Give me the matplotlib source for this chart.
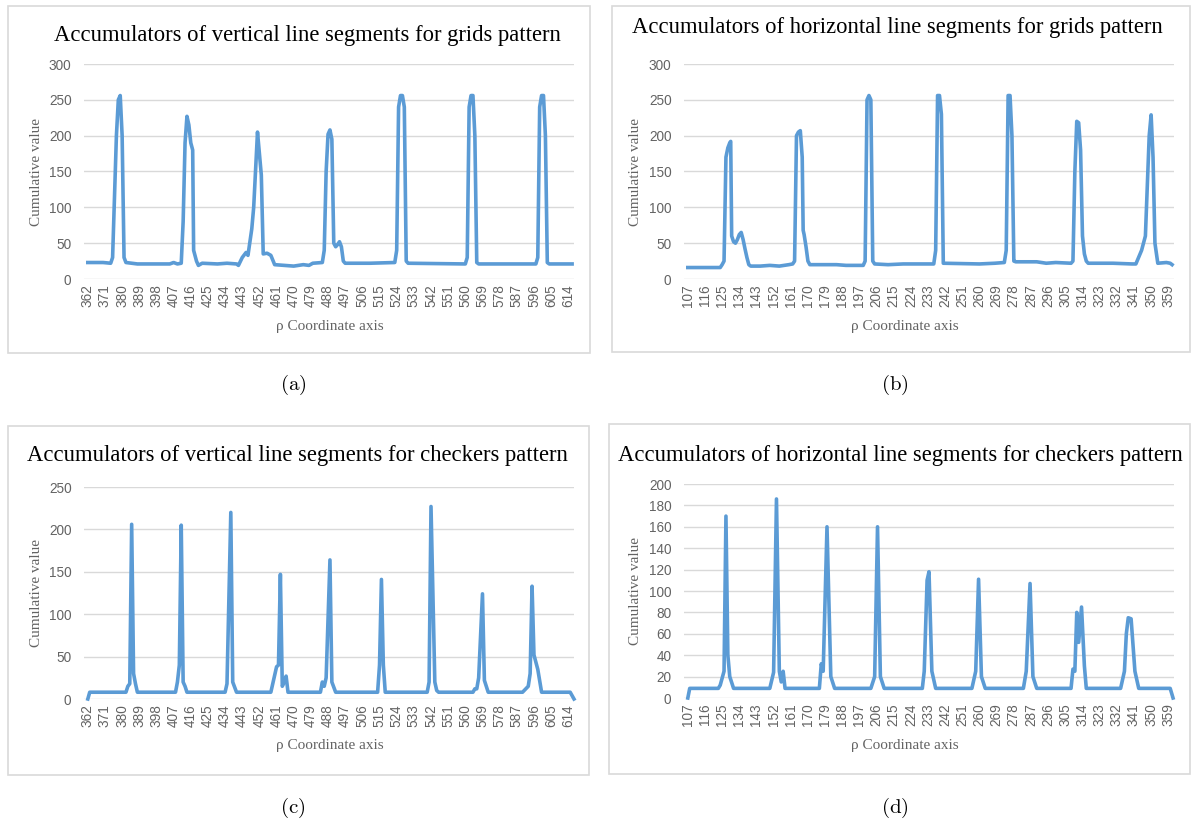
import matplotlib
matplotlib.use("Agg")
import matplotlib.pyplot as plt
from matplotlib.patches import Rectangle

plt.rcParams['mathtext.fontset'] = 'cm'

# ---- data (rho, accumulator value) ----
rho_a = [362, 370, 374, 375, 377, 378, 379, 380, 381, 382, 385, 388, 405, 407, 409, 411, 412,
         413, 414, 415, 416, 417, 417.5, 419, 420, 422, 430, 435, 440, 441, 443, 445, 446, 448,
         449, 451, 452, 453, 454, 456, 458, 460, 465, 470, 475, 478, 480, 485, 486, 487, 488,
         489, 490, 491, 492, 493, 494, 495, 496, 497, 510, 523, 524, 525, 526, 527, 528, 529,
         530, 560, 561, 562, 563, 564, 565, 566, 567, 597, 598, 599, 600, 601, 602, 603, 604, 616]
acc_a = [23, 23, 22, 30, 200, 250, 256, 200, 30, 23, 22, 21, 21, 23, 21, 22, 80,
         190, 227, 215, 190, 180, 40, 25, 19, 22, 21, 22, 21, 19, 30, 37, 33, 70,
         100, 205, 175, 145, 35, 36, 33, 20, 19, 18, 20, 19, 22, 23, 40, 150, 202,
         208, 195, 50, 45, 48, 52, 45, 25, 22, 22, 23, 40, 240, 256, 256, 240, 25,
         22, 21, 30, 240, 256, 256, 200, 23, 21, 21, 30, 240, 256, 256, 200, 23, 21, 21]

rho_b = [107, 124, 125, 126, 127, 128, 129, 129.5, 130, 131, 132, 133, 134, 135, 136, 137, 138,
         139, 140, 145, 150, 155, 160, 162, 163, 164, 165, 166, 167, 167.5, 168, 169, 170, 171,
         185, 190, 199, 200, 201, 202, 203, 204, 205, 212, 220, 236, 237, 238, 239, 240, 241,
         260, 268, 273, 274, 275, 276, 277, 278, 279, 290, 295, 300, 308, 309, 310, 311, 312,
         313, 314, 315, 316, 317, 330, 340, 342, 345, 347, 349, 350, 351, 352, 353.5, 358, 360, 361]
acc_b = [16, 16, 20, 25, 170, 183, 190, 192, 60, 52, 50, 55, 62, 65, 55, 42, 30,
         20, 18, 18, 19, 18, 20, 21, 25, 200, 205, 207, 170, 68, 62, 45, 25, 20,
         20, 19, 19, 25, 250, 256, 250, 25, 21, 20, 21, 21, 40, 256, 256, 230, 22,
         21, 22, 23, 40, 256, 256, 200, 25, 24, 24, 22, 23, 22, 25, 150, 220, 218,
         180, 60, 35, 25, 22, 22, 21, 21, 40, 60, 200, 229, 170, 50, 22, 23, 22, 20]

rho_c = [362, 363, 382, 383, 384, 385, 386, 387, 388, 408, 409, 410, 411, 412, 413, 414, 434,
         435, 437, 438, 440, 458, 460, 461, 462, 463, 464, 465, 466, 467, 484, 485, 486, 487,
         489, 490, 492, 514, 515, 516, 517, 518, 540, 541, 542, 544, 545, 546, 564, 565, 566,
         567, 569, 570, 572, 590, 593, 594, 595, 596, 598, 600, 615, 617]
acc_c = [0, 8, 8, 15, 18, 206, 30, 18, 8, 8, 20, 40, 205, 20, 15, 8, 8,
         18, 220, 20, 8, 8, 28, 38, 40, 147, 15, 20, 27, 8, 8, 20, 15, 25,
         164, 20, 8, 8, 40, 141, 40, 8, 8, 20, 227, 20, 10, 8, 8, 12, 12,
         25, 124, 22, 8, 8, 15, 30, 133, 52, 35, 8, 8, 0]

rho_d = [107, 108, 123, 124, 126, 127, 128, 129, 131, 150, 152, 153.5, 155, 156, 157, 158, 176,
         177, 178, 180, 182, 184, 203, 205, 206.5, 208, 210, 230, 231, 232.5, 233.5, 235, 237,
         256, 258, 259.5, 261, 263, 283, 284.5, 286.5, 288, 290, 308, 309, 310, 311, 312,
         313.5, 315, 316, 334, 336, 337, 338, 339.5, 341.5, 343.5, 360, 361.5]
acc_d = [0, 9, 9, 12, 25, 170, 40, 20, 9, 9, 24, 186, 25, 15, 25, 9, 9,
         32, 25, 160, 20, 9, 9, 20, 160, 20, 9, 9, 25, 110, 118, 25, 9,
         9, 25, 111, 20, 9, 9, 25, 107, 20, 9, 9, 27, 25, 80, 52,
         85, 30, 9, 9, 25, 60, 75, 74, 25, 9, 9, 0]

titles = ["Accumulators of vertical line segments for grids pattern",
          "Accumulators of horizontal line segments for grids pattern",
          "Accumulators of vertical line segments for checkers pattern",
          "Accumulators of horizontal line segments for checkers pattern"]
captions = ["(a)", "(b)", "(c)", "(d)"]
xticks_v = list(range(362, 615, 9))
xticks_h = list(range(107, 360, 9))

W, H = 1192, 830
LINE = '#5B9BD5'
GRID = '#D9D9D9'
TICK = '#636363'

fig = plt.figure(figsize=(W / 100, H / 100), dpi=100)
fig.patch.set_facecolor('white')


def fx(x):
    return x / W


def fy(y):
    return 1 - y / H


def panel(box, axpx, xlim, ymax, ystep, xticks, rho, acc, title, title_xy, ylab_x, xlab_xy, cap_xy, cap):
    x0, y0, x1, y1 = box
    fig.patches.append(Rectangle((fx(x0), fy(y1)), fx(x1 - x0), (y1 - y0) / H,
                                 transform=fig.transFigure, fill=False,
                                 edgecolor=GRID, linewidth=1.2))
    l, t, r, b = axpx
    ax = fig.add_axes([fx(l), fy(b), fx(r - l), (b - t) / H])
    ax.plot(rho, acc, color=LINE, linewidth=2.6, solid_joinstyle='round', clip_on=False)
    ax.set_xlim(*xlim)
    ax.set_ylim(0, ymax)
    ax.set_yticks(range(0, ymax + 1, ystep))
    ax.set_xticks(xticks)
    ax.set_xticklabels([str(v) for v in xticks], rotation=90)
    for s in ax.spines.values():
        s.set_visible(False)
    ax.grid(axis='y', color=GRID, linewidth=1.0)
    ax.set_axisbelow(True)
    ax.tick_params(length=0, labelsize=9.8, labelcolor=TICK)
    ax.tick_params(axis='y', pad=9)
    ax.tick_params(axis='x', pad=4)
    for lab in ax.get_xticklabels() + ax.get_yticklabels():
        lab.set_family('Liberation Sans')
    fig.text(fx(title_xy[0]), fy(title_xy[1]), title, ha='center', va='center',
             family='Liberation Serif', fontsize=16.3, color='black')
    fig.text(fx(ylab_x), fy((t + b) / 2), 'Cumulative value', rotation=90, ha='center',
             va='center', family='Liberation Serif', fontsize=11, color=TICK)
    fig.text(fx(xlab_xy[0]), fy(xlab_xy[1]), 'ρ Coordinate axis', ha='center', va='center',
             family='Liberation Serif', fontsize=11, color=TICK)
    fig.text(fx(cap_xy[0]), fy(cap_xy[1]), r'$\mathrm{' + cap + '}$', ha='center',
             va='center', fontsize=15, color='black')
    return ax


panel((8, 6, 590, 353), (84, 64, 574, 279), (360, 617), 300, 50, xticks_v, rho_a, acc_a,
      titles[0], (307, 35), 37, (330, 326), (293, 385), captions[0])
panel((612, 6, 1190, 352), (684, 64, 1174, 279), (105, 362), 300, 50, xticks_h, rho_b, acc_b,
      titles[1], (897, 28), 636, (905, 326), (895, 385), captions[1])
panel((8, 426, 589, 775), (84, 487, 574, 699), (360, 617), 250, 50, xticks_v, rho_c, acc_c,
      titles[2], (297, 455), 37, (330, 745), (293, 808), captions[2])
panel((609, 424, 1190, 774), (684, 484, 1174, 698), (105, 362), 200, 20, xticks_h, rho_d, acc_d,
      titles[3], (900, 455), 636, (905, 745), (895, 808), captions[3])

fig.savefig('out.png', dpi=100)
